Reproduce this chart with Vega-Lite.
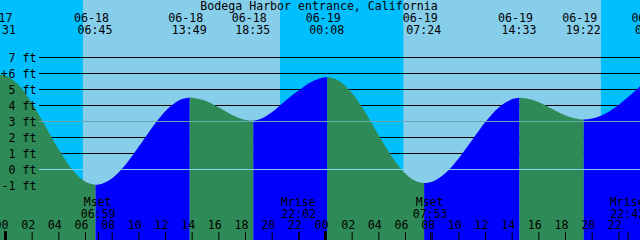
{
  "$schema": "https://vega.github.io/schema/vega-lite/v6.json",
  "width": 640,
  "height": 240,
  "autosize": {"type": "none"},
  "padding": 0,
  "background": "#00BFFF",
  "config": {
    "view": {"stroke": null},
    "text": {"font": "DejaVu Sans Mono", "fontSize": 11.6, "color": "#000000"}
  },
  "datasets": {
    "bands": [
      {"start": -0.5, "end": 5.81, "kind": "night"},
      {"start": 5.81, "end": 20.59, "kind": "day"},
      {"start": 20.59, "end": 29.84, "kind": "night"},
      {"start": 29.84, "end": 44.66, "kind": "day"},
      {"start": 44.66, "end": 48.5, "kind": "night"}
    ],
    "levels": [
      {"ft": 7, "label": "7 ft", "kind": "plain"},
      {"ft": 6, "label": "6 ft", "kind": "plain"},
      {"ft": 5, "label": "5 ft", "kind": "plain"},
      {"ft": 4, "label": "4 ft", "kind": "plain"},
      {"ft": 3, "label": "3 ft", "kind": "mean"},
      {"ft": 2, "label": "2 ft", "kind": "plain"},
      {"ft": 1, "label": "1 ft", "kind": "plain"},
      {"ft": 0, "label": "0 ft", "kind": "zero"},
      {"ft": -1, "label": "-1 ft", "kind": "none"}
    ],
    "tide": [
      {"t": -0.483, "ft": 5.95, "seg": 1, "dir": "falling"},
      {"t": 0, "ft": 5.87, "seg": 1, "dir": "falling"},
      {"t": 1, "ft": 5.26, "seg": 1, "dir": "falling"},
      {"t": 2, "ft": 4.13, "seg": 1, "dir": "falling"},
      {"t": 3, "ft": 2.7, "seg": 1, "dir": "falling"},
      {"t": 4, "ft": 1.23, "seg": 1, "dir": "falling"},
      {"t": 5, "ft": 0.0, "seg": 1, "dir": "falling"},
      {"t": 6, "ft": -0.77, "seg": 1, "dir": "falling"},
      {"t": 6.75, "ft": -0.95, "seg": 1, "dir": "falling"},
      {"t": 6.75, "ft": -0.95, "seg": 2, "dir": "rising"},
      {"t": 7, "ft": -0.93, "seg": 2, "dir": "rising"},
      {"t": 8, "ft": -0.54, "seg": 2, "dir": "rising"},
      {"t": 9, "ft": 0.3, "seg": 2, "dir": "rising"},
      {"t": 10, "ft": 1.43, "seg": 2, "dir": "rising"},
      {"t": 11, "ft": 2.63, "seg": 2, "dir": "rising"},
      {"t": 12, "ft": 3.66, "seg": 2, "dir": "rising"},
      {"t": 13, "ft": 4.32, "seg": 2, "dir": "rising"},
      {"t": 13.817, "ft": 4.5, "seg": 2, "dir": "rising"},
      {"t": 13.817, "ft": 4.5, "seg": 3, "dir": "falling"},
      {"t": 14, "ft": 4.49, "seg": 3, "dir": "falling"},
      {"t": 15, "ft": 4.29, "seg": 3, "dir": "falling"},
      {"t": 16, "ft": 3.87, "seg": 3, "dir": "falling"},
      {"t": 17, "ft": 3.41, "seg": 3, "dir": "falling"},
      {"t": 18, "ft": 3.1, "seg": 3, "dir": "falling"},
      {"t": 18.583, "ft": 3.05, "seg": 3, "dir": "falling"},
      {"t": 18.583, "ft": 3.05, "seg": 4, "dir": "rising"},
      {"t": 19, "ft": 3.12, "seg": 4, "dir": "rising"},
      {"t": 20, "ft": 3.6, "seg": 4, "dir": "rising"},
      {"t": 21, "ft": 4.3, "seg": 4, "dir": "rising"},
      {"t": 22, "ft": 4.95, "seg": 4, "dir": "rising"},
      {"t": 23, "ft": 5.5, "seg": 4, "dir": "rising"},
      {"t": 24, "ft": 5.77, "seg": 4, "dir": "rising"},
      {"t": 24.133, "ft": 5.78, "seg": 4, "dir": "rising"},
      {"t": 24.133, "ft": 5.78, "seg": 5, "dir": "falling"},
      {"t": 25, "ft": 5.55, "seg": 5, "dir": "falling"},
      {"t": 26, "ft": 4.76, "seg": 5, "dir": "falling"},
      {"t": 27, "ft": 3.55, "seg": 5, "dir": "falling"},
      {"t": 28, "ft": 2.13, "seg": 5, "dir": "falling"},
      {"t": 29, "ft": 0.78, "seg": 5, "dir": "falling"},
      {"t": 30, "ft": -0.26, "seg": 5, "dir": "falling"},
      {"t": 31, "ft": -0.8, "seg": 5, "dir": "falling"},
      {"t": 31.4, "ft": -0.85, "seg": 5, "dir": "falling"},
      {"t": 31.4, "ft": -0.85, "seg": 6, "dir": "rising"},
      {"t": 32, "ft": -0.76, "seg": 6, "dir": "rising"},
      {"t": 33, "ft": -0.22, "seg": 6, "dir": "rising"},
      {"t": 34, "ft": 0.71, "seg": 6, "dir": "rising"},
      {"t": 35, "ft": 1.84, "seg": 6, "dir": "rising"},
      {"t": 36, "ft": 2.98, "seg": 6, "dir": "rising"},
      {"t": 37, "ft": 3.88, "seg": 6, "dir": "rising"},
      {"t": 38, "ft": 4.4, "seg": 6, "dir": "rising"},
      {"t": 38.55, "ft": 4.48, "seg": 6, "dir": "rising"},
      {"t": 38.55, "ft": 4.48, "seg": 7, "dir": "falling"},
      {"t": 39, "ft": 4.45, "seg": 7, "dir": "falling"},
      {"t": 40, "ft": 4.2, "seg": 7, "dir": "falling"},
      {"t": 41, "ft": 3.78, "seg": 7, "dir": "falling"},
      {"t": 42, "ft": 3.37, "seg": 7, "dir": "falling"},
      {"t": 43, "ft": 3.14, "seg": 7, "dir": "falling"},
      {"t": 43.367, "ft": 3.12, "seg": 7, "dir": "falling"},
      {"t": 43.367, "ft": 3.12, "seg": 8, "dir": "rising"},
      {"t": 44, "ft": 3.18, "seg": 8, "dir": "rising"},
      {"t": 45, "ft": 3.5, "seg": 8, "dir": "rising"},
      {"t": 46, "ft": 4.05, "seg": 8, "dir": "rising"},
      {"t": 47, "ft": 4.75, "seg": 8, "dir": "rising"},
      {"t": 47.6, "ft": 5.2, "seg": 8, "dir": "rising"}
    ],
    "extremes": [
      {"t": -0.483, "date": "06-17", "time": "23:31"},
      {"t": 6.75, "date": "06-18", "time": "06:45"},
      {"t": 13.817, "date": "06-18", "time": "13:49"},
      {"t": 18.583, "date": "06-18", "time": "18:35"},
      {"t": 24.133, "date": "06-19", "time": "00:08"},
      {"t": 31.4, "date": "06-19", "time": "07:24"},
      {"t": 38.55, "date": "06-19", "time": "14:33"},
      {"t": 43.367, "date": "06-19", "time": "19:22"},
      {"t": 48.55, "date": "06-20", "time": "00:33"}
    ],
    "moon": [
      {"t": 6.983, "event": "Mset", "time": "06:59"},
      {"t": 22.033, "event": "Mrise", "time": "22:02"},
      {"t": 31.883, "event": "Mset", "time": "07:53"},
      {"t": 46.7, "event": "Mrise", "time": "22:42"}
    ],
    "hours": [
      {"h": 0, "label": "00", "major": true},
      {"h": 2, "label": "02", "major": false},
      {"h": 4, "label": "04", "major": false},
      {"h": 6, "label": "06", "major": false},
      {"h": 8, "label": "08", "major": false},
      {"h": 10, "label": "10", "major": false},
      {"h": 12, "label": "12", "major": false},
      {"h": 14, "label": "14", "major": false},
      {"h": 16, "label": "16", "major": false},
      {"h": 18, "label": "18", "major": false},
      {"h": 20, "label": "20", "major": false},
      {"h": 22, "label": "22", "major": false},
      {"h": 24, "label": "00", "major": true},
      {"h": 26, "label": "02", "major": false},
      {"h": 28, "label": "04", "major": false},
      {"h": 30, "label": "06", "major": false},
      {"h": 32, "label": "08", "major": false},
      {"h": 34, "label": "10", "major": false},
      {"h": 36, "label": "12", "major": false},
      {"h": 38, "label": "14", "major": false},
      {"h": 40, "label": "16", "major": false},
      {"h": 42, "label": "18", "major": false},
      {"h": 44, "label": "20", "major": false},
      {"h": 46, "label": "22", "major": false}
    ],
    "marker": [{"t": -0.1, "ft": 5.7, "label": "+"}],
    "title": [{"t": 23.51, "ft": 9.97, "label": "Bodega Harbor entrance, California"}]
  },
  "resolve": {"scale": {"color": "independent"}},
  "layer": [
    {
      "data": {"name": "bands"},
      "mark": {"type": "rect", "clip": true},
      "encoding": {
        "x": {"field": "start", "type": "quantitative", "scale": {"domain": [-0.4125, 47.5875], "nice": false, "zero": false}, "axis": null},
        "x2": {"field": "end"},
        "color": {"field": "kind", "type": "nominal", "scale": {"domain": ["night", "day"], "range": ["#00BFFF", "#87CEEB"]}, "legend": null}
      }
    },
    {
      "data": {"name": "levels"},
      "transform": [{"filter": "datum.kind == 'plain'"}],
      "mark": {"type": "rule", "color": "#000000", "strokeWidth": 1},
      "encoding": {
        "y": {"field": "ft", "type": "quantitative", "scale": {"domain": [-4.40625, 10.59375], "nice": false, "zero": false}, "axis": null},
        "x": {"datum": 2.5125, "type": "quantitative", "scale": {"domain": [-0.4125, 47.5875], "nice": false, "zero": false}, "axis": null},
        "x2": {"datum": 47.5875}
      }
    },
    {
      "data": {"name": "tide"},
      "mark": {"type": "area", "interpolate": "monotone", "clip": true},
      "encoding": {
        "x": {"field": "t", "type": "quantitative", "scale": {"domain": [-0.4125, 47.5875], "nice": false, "zero": false}, "axis": null},
        "y": {"field": "ft", "type": "quantitative", "stack": null, "scale": {"domain": [-4.40625, 10.59375], "nice": false, "zero": false}, "axis": null},
        "y2": {"datum": -4.5},
        "color": {"field": "dir", "type": "nominal", "scale": {"domain": ["falling", "rising"], "range": ["#2E8B57", "#0000FF"]}, "legend": null},
        "detail": {"field": "seg", "type": "nominal"}
      }
    },
    {
      "data": {"name": "levels"},
      "transform": [{"filter": "datum.kind == 'mean'"}],
      "mark": {"type": "rule", "color": "#66A9B4", "strokeWidth": 1},
      "encoding": {
        "y": {"field": "ft", "type": "quantitative", "scale": {"domain": [-4.40625, 10.59375], "nice": false, "zero": false}, "axis": null},
        "x": {"datum": 2.5125, "type": "quantitative", "scale": {"domain": [-0.4125, 47.5875], "nice": false, "zero": false}, "axis": null},
        "x2": {"datum": 47.5875}
      }
    },
    {
      "data": {"name": "levels"},
      "transform": [{"filter": "datum.kind == 'zero'"}],
      "mark": {"type": "rule", "color": "#87CEEB", "strokeWidth": 1},
      "encoding": {
        "y": {"field": "ft", "type": "quantitative", "scale": {"domain": [-4.40625, 10.59375], "nice": false, "zero": false}, "axis": null},
        "x": {"datum": 2.5125, "type": "quantitative", "scale": {"domain": [-0.4125, 47.5875], "nice": false, "zero": false}, "axis": null},
        "x2": {"datum": 47.5875}
      }
    },
    {
      "data": {"name": "levels"},
      "mark": {"type": "text", "align": "right", "baseline": "alphabetic", "dy": 4},
      "encoding": {
        "y": {"field": "ft", "type": "quantitative", "scale": {"domain": [-4.40625, 10.59375], "nice": false, "zero": false}, "axis": null},
        "x": {"datum": 2.325, "type": "quantitative", "scale": {"domain": [-0.4125, 47.5875], "nice": false, "zero": false}, "axis": null},
        "text": {"field": "label"}
      }
    },
    {
      "data": {"name": "marker"},
      "mark": {"type": "text", "align": "center", "baseline": "alphabetic"},
      "encoding": {
        "x": {"field": "t", "type": "quantitative", "scale": {"domain": [-0.4125, 47.5875], "nice": false, "zero": false}, "axis": null},
        "y": {"field": "ft", "type": "quantitative", "scale": {"domain": [-4.40625, 10.59375], "nice": false, "zero": false}, "axis": null},
        "text": {"field": "label"}
      }
    },
    {
      "data": {"name": "title"},
      "mark": {"type": "text", "align": "center", "baseline": "alphabetic"},
      "encoding": {
        "x": {"field": "t", "type": "quantitative", "scale": {"domain": [-0.4125, 47.5875], "nice": false, "zero": false}, "axis": null},
        "y": {"field": "ft", "type": "quantitative", "scale": {"domain": [-4.40625, 10.59375], "nice": false, "zero": false}, "axis": null},
        "text": {"field": "label"}
      }
    },
    {
      "data": {"name": "extremes"},
      "mark": {"type": "text", "align": "center", "baseline": "alphabetic", "dx": -4},
      "encoding": {
        "x": {"field": "t", "type": "quantitative", "scale": {"domain": [-0.4125, 47.5875], "nice": false, "zero": false}, "axis": null},
        "y": {"datum": 9.25, "type": "quantitative", "scale": {"domain": [-4.40625, 10.59375], "nice": false, "zero": false}, "axis": null},
        "text": {"field": "date"}
      }
    },
    {
      "data": {"name": "extremes"},
      "mark": {"type": "text", "align": "center", "baseline": "alphabetic", "dx": -0.5},
      "encoding": {
        "x": {"field": "t", "type": "quantitative", "scale": {"domain": [-0.4125, 47.5875], "nice": false, "zero": false}, "axis": null},
        "y": {"datum": 8.5, "type": "quantitative", "scale": {"domain": [-4.40625, 10.59375], "nice": false, "zero": false}, "axis": null},
        "text": {"field": "time"}
      }
    },
    {
      "data": {"name": "moon"},
      "mark": {"type": "text", "align": "center", "baseline": "alphabetic", "dx": -1},
      "encoding": {
        "x": {"field": "t", "type": "quantitative", "scale": {"domain": [-0.4125, 47.5875], "nice": false, "zero": false}, "axis": null},
        "y": {"datum": -2.26, "type": "quantitative", "scale": {"domain": [-4.40625, 10.59375], "nice": false, "zero": false}, "axis": null},
        "text": {"field": "event"}
      }
    },
    {
      "data": {"name": "moon"},
      "mark": {"type": "text", "align": "center", "baseline": "alphabetic", "dx": -0.5},
      "encoding": {
        "x": {"field": "t", "type": "quantitative", "scale": {"domain": [-0.4125, 47.5875], "nice": false, "zero": false}, "axis": null},
        "y": {"datum": -3.01, "type": "quantitative", "scale": {"domain": [-4.40625, 10.59375], "nice": false, "zero": false}, "axis": null},
        "text": {"field": "time"}
      }
    },
    {
      "data": {"name": "moon"},
      "mark": {"type": "rule", "color": "#000000", "strokeWidth": 1},
      "encoding": {
        "x": {"field": "t", "type": "quantitative", "scale": {"domain": [-0.4125, 47.5875], "nice": false, "zero": false}, "axis": null},
        "y": {"datum": -3.91, "type": "quantitative", "scale": {"domain": [-4.40625, 10.59375], "nice": false, "zero": false}, "axis": null},
        "y2": {"datum": -4.5}
      }
    },
    {
      "data": {"name": "hours"},
      "transform": [{"filter": "!datum.major"}],
      "mark": {"type": "rule", "color": "#000000", "strokeWidth": 1},
      "encoding": {
        "x": {"field": "h", "type": "quantitative", "scale": {"domain": [-0.4125, 47.5875], "nice": false, "zero": false}, "axis": null},
        "y": {"datum": -3.91, "type": "quantitative", "scale": {"domain": [-4.40625, 10.59375], "nice": false, "zero": false}, "axis": null},
        "y2": {"datum": -4.5}
      }
    },
    {
      "data": {"name": "hours"},
      "transform": [{"filter": "datum.major"}],
      "mark": {"type": "rule", "color": "#000000", "strokeWidth": 3},
      "encoding": {
        "x": {"field": "h", "type": "quantitative", "scale": {"domain": [-0.4125, 47.5875], "nice": false, "zero": false}, "axis": null},
        "y": {"datum": -3.85, "type": "quantitative", "scale": {"domain": [-4.40625, 10.59375], "nice": false, "zero": false}, "axis": null},
        "y2": {"datum": -4.5}
      }
    },
    {
      "data": {"name": "hours"},
      "mark": {"type": "text", "align": "center", "baseline": "alphabetic", "dx": -4},
      "encoding": {
        "x": {"field": "h", "type": "quantitative", "scale": {"domain": [-0.4125, 47.5875], "nice": false, "zero": false}, "axis": null},
        "y": {"datum": -3.74, "type": "quantitative", "scale": {"domain": [-4.40625, 10.59375], "nice": false, "zero": false}, "axis": null},
        "text": {"field": "label"}
      }
    }
  ]
}
